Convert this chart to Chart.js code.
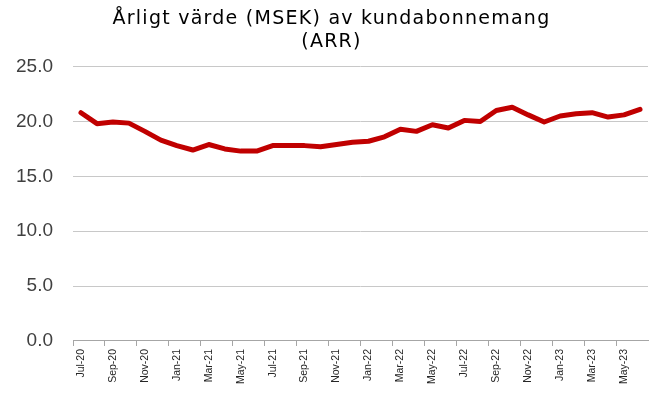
<!DOCTYPE html>
<html>
<head>
<meta charset="utf-8">
<script src="https://cdn.jsdelivr.net/npm/chart.js@4"></script>
<style>
html,body{margin:0;padding:0;background:#fff;}
#wrap{width:658px;height:402px;position:relative;}
</style>
</head>
<body>
<div id="wrap"><canvas id="c" width="658" height="402"></canvas></div>
<script>
const categories = ['Jul-20','Aug-20','Sep-20','Oct-20','Nov-20','Dec-20',
  'Jan-21','Feb-21','Mar-21','Apr-21','May-21','Jun-21',
  'Jul-21','Aug-21','Sep-21','Oct-21','Nov-21','Dec-21',
  'Jan-22','Feb-22','Mar-22','Apr-22','May-22','Jun-22',
  'Jul-22','Aug-22','Sep-22','Oct-22','Nov-22','Dec-22',
  'Jan-23','Feb-23','Mar-23','Apr-23','May-23','Jun-23'];
const arrValues = [20.8, 19.8, 19.95, 19.85, 19.1, 18.3, 17.8, 17.4, 17.9, 17.5, 17.3, 17.3,
  17.8, 17.8, 17.8, 17.7, 17.9, 18.1, 18.2, 18.6, 19.3, 19.1, 19.7, 19.4,
  20.1, 20.0, 21.0, 21.3, 20.6, 19.95, 20.5, 20.7, 20.8, 20.4, 20.6, 21.1];
const yTicks = [0, 5, 10, 15, 20, 25];
const titleLines = ['Årligt värde (MSEK) av kundabonnemang', '(ARR)'];

// widen title letter spacing (reference uses a wide geometric face)
const titleSpacing = {
  id: 'titleSpacing',
  afterLayout(chart) {
    const tb = chart.titleBlock;
    if (tb && !tb._wrapped) {
      const orig = tb.draw.bind(tb);
      tb.draw = function() {
        const ctx = chart.ctx;
        ctx.save();
        if ('letterSpacing' in ctx) ctx.letterSpacing = '1.25px';
        orig();
        ctx.restore();
      };
      tb._wrapped = true;
    }
  }
};

new Chart(document.getElementById('c'), {
  type: 'line',
  data: {
    labels: categories,
    datasets: [{
      label: 'ARR',
      data: arrValues,
      borderColor: '#c00000',
      borderWidth: 5,
      pointRadius: 0,
      tension: 0,
      borderCapStyle: 'round',
      borderJoinStyle: 'round',
      fill: false
    }]
  },
  plugins: [titleSpacing],
  options: {
    responsive: false,
    animation: false,
    layout: { padding: { left: 15, right: 10, top: 0, bottom: 15 } },
    plugins: {
      legend: { display: false },
      tooltip: { enabled: false },
      title: {
        display: true,
        text: titleLines,
        color: '#000',
        font: { family: 'DejaVu Sans', size: 19, weight: 'normal', lineHeight: 1.2 },
        padding: { top: 8, bottom: 13 }
      }
    },
    scales: {
      x: {
        offset: true,
        grid: {
          offset: true,
          drawOnChartArea: false,
          drawTicks: true,
          tickLength: 5,
          color: (ctx) => (ctx.index % 2 === 0 ? '#a6a6a6' : 'rgba(0,0,0,0)')
        },
        border: { display: true, color: '#a6a6a6', width: 1 },
        ticks: {
          autoSkip: false,
          maxRotation: 90,
          minRotation: 90,
          padding: 3,
          color: '#262626',
          font: { family: 'Liberation Sans', size: 10.5 },
          callback: function(v, i) { return i % 2 === 0 ? categories[i] : ''; }
        }
      },
      y: {
        min: 0,
        max: 25,
        afterBuildTicks: (axis) => { axis.ticks = yTicks.map(v => ({ value: v })); },
        afterFit: (axis) => { axis.width = 58; },
        grid: { color: '#c8c8c8', lineWidth: 1, drawTicks: false },
        border: { display: false },
        ticks: {
          padding: 20,
          color: '#404040',
          font: { family: 'Liberation Sans', size: 19 },
          callback: (v) => Number(v).toFixed(1)
        }
      }
    }
  }
});
</script>
</body>
</html>
